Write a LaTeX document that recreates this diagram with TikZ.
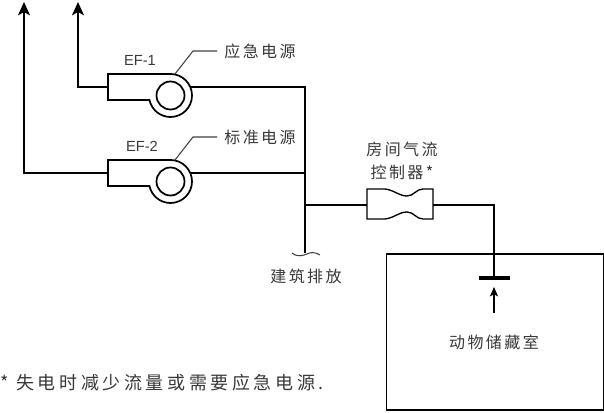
\documentclass[tikz,border=0pt]{standalone}
\usepackage{fontspec}
\setmainfont{Liberation Sans}
\newfontfamily\cjk[LetterSpace=15]{Noto Sans CJK SC}
\newfontfamily\cjknote[LetterSpace=20]{Noto Sans CJK SC}
\usetikzlibrary{arrows.meta}
\definecolor{mtext}{gray}{0.22}
\begin{document}
\begin{tikzpicture}[x=.75pt,y=.75pt,duct/.style={line width=1.3pt,line join=miter},thin line/.style={line width=.8pt,draw=black!75},
    arrow/.style={>={Stealth[length=10pt,width=9pt,inset=2.5pt]},->,line width=1.3pt},
    every node/.style={inner sep=0pt,text=mtext},mlabel/.style={font=\cjk\fontsize{12}{17}\selectfont,align=center},
    wheel/.style={circle,draw,line width=1.3pt,minimum size=21pt}]
    \useasboundingbox (0,0) rectangle (604,413);
    % fan, outlet and power label
    \foreach \i/\my/\mdrop/\mname/\mpower/\tx in {1/0/78/EF-1/应急电源/140,2/-86/24/EF-2/标准电源/142}{
        \coordinate (c\i) at (170.5,317.5+\my);
        \coordinate (in\i) at (108,326+\my);
        \coordinate (out\i) at (191,326+\my);
        \coordinate (top\i) at (\mdrop,411);
        \coordinate (tap\i) at (175,339+\my);
        \coordinate (bend\i) at (193,362+\my);
        \coordinate (end\i) at (217,362+\my);
        \draw[duct] (108,339+\my)--(170.5,339+\my) arc (90:-168:21.5) --(108,313+\my)--cycle;
        \node[wheel] (fan\i) at (c\i) {};
        \draw[arrow] (in\i)-|(top\i);
        \draw[thin line] (tap\i)--(bend\i)--(end\i);
        \node[font=\fontsize{11}{13}\selectfont] (name\i) at (\tx,353+\my) {\mname};
        \node[mlabel] (power\i) at (260,362+\my) {\mpower};
    }
    % main riser
    \coordinate (riser) at (305,326);
    \coordinate (foot) at (305,160);
    \coordinate (branch) at (305,208);
    \coordinate (drop) at (494,208);
    \coordinate (bar) at (494,134);
    \draw[duct] (out1)--(riser)--(foot);
    \draw[duct] (out2)--(out2-|riser);
    \draw[thin line] (292,160) .. controls (298,155) and (304,158) .. (307,159) .. controls (311,161) and (315,161) .. (320,158);
    \node[mlabel] (exhaust) at (306,137) {建筑排放};
    % controller
    \node[mlabel] (ctrltext) at (402,252) {房间气流\\控制器*};
    \draw[duct,line width=1pt] (367,224) -- (385,224) .. controls (394,223) and (399,217) .. (407,217) .. controls (414,217) and (416,224) .. (423,224) -- (433,224) -- (433,194) -- (423,194) .. controls (416,194) and (414,201) .. (407,201) .. controls (399,201) and (394,195) .. (385,194) -- (367,194) -- cycle;
    \coordinate (ctrlin) at (367,208);
    \coordinate (ctrlout) at (433,208);
    \draw[duct] (branch)--(ctrlin) (ctrlout)--(drop)--(bar);
    % room
    \node[draw,line width=1.3pt,minimum width=162.75pt,minimum height=117pt,anchor=south west] (room) at (385.5,2) {};
    \draw[line width=2.6pt] (479,135)--(510,135);
    \coordinate (flowtail) at (494,100);
    \coordinate (flowhead) at (494,126);
    \draw[arrow,>={Stealth[length=7pt,width=6pt,inset=1.5pt]},line width=1pt] (flowtail)--(flowhead);
    \node[mlabel] (roomtext) at (494,71) {动物储藏室};
    \node[anchor=west,font=\cjknote\fontsize{13.5}{16}\selectfont] (note) at (0,30) {* 失电时减少流量或需要应急电源.};
\end{tikzpicture}
\end{document}
